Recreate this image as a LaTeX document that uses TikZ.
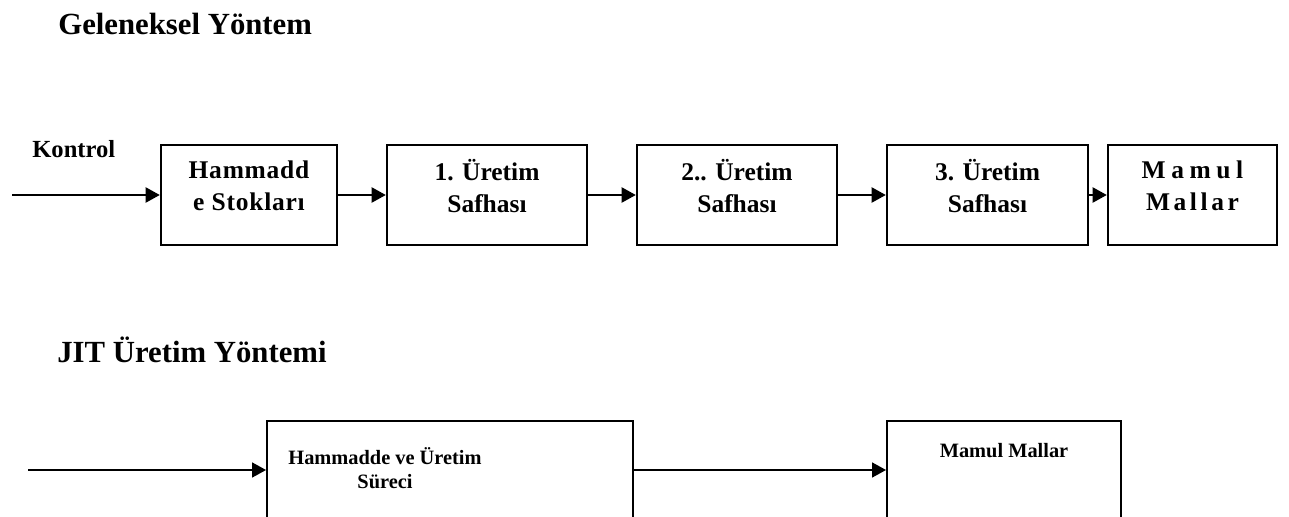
\documentclass[tikz,border=0pt]{standalone}
\usepackage{fontspec}
\setmainfont{Liberation Serif}
\usetikzlibrary{arrows.meta}
\tikzset{
  kutu/.style={draw,line width=1.4pt,inner sep=0pt,minimum height=2cm,text depth=0.36cm,align=center,font=\bfseries\fontsize{14.5}{18.1}\selectfont},
  jkutu/.style={draw,line width=1.1pt,inner sep=0pt,minimum height=1.96cm},
  jyazi/.style={anchor=base,inner sep=0pt,align=center,font=\bfseries\fontsize{11.6}{13.6}\selectfont},
  ok/.style={line width=1.3pt,-{Triangle[length=8pt,width=8.5pt]}},
  baslik/.style={anchor=base west,inner sep=0pt,font=\bfseries\fontsize{17.5}{20}\selectfont}
}
\begin{document}
\begin{tikzpicture}[x=0.02cm,y=-0.02cm]
    \useasboundingbox (0,0) rectangle (1289,517);
    \node[baslik] (gel) at (58,35) {Geleneksel Yöntem};
    \node[anchor=base west,inner sep=0pt,font=\bfseries\fontsize{14}{16}\selectfont] (kontrol) at (32,157) {Kontrol};
    \coordinate (giris) at (12,195);
    \node[kutu,minimum width=3.52cm] (hs) at (249,195) {\addfontfeatures{LetterSpace=3}Hammadd\\\addfontfeatures{LetterSpace=3}e Stokları};
    \node[kutu,minimum width=4cm] (u1) at (487,195) {1. Üretim\\Safhası};
    \node[kutu,minimum width=4cm] (u2) at (737,195) {2.. Üretim\\Safhası};
    \node[kutu,minimum width=4.02cm] (u3) at (987.5,195) {3. Üretim\\Safhası};
    \node[kutu,minimum width=3.38cm] (mm) at (1192.5,195) {\addfontfeatures{LetterSpace=22}Mamul\\\addfontfeatures{LetterSpace=14}Mallar};
    \draw[ok] (giris) -- (hs);
    \draw[ok] (hs) -- (u1);
    \draw[ok] (u1) -- (u2);
    \draw[ok] (u2) -- (u3);
    \draw[ok] (u3) -- (mm);
    % JIT
    \node[baslik] (jit) at (57,362) {JIT Üretim Yöntemi};
    \coordinate (jgiris) at (28,470);
    \node[jkutu,minimum width=7.32cm] (jh) at (450,470) {};
    \node[jkutu,minimum width=4.68cm] (jm) at (1004,470) {};
    \node[jyazi] (jhyazi) at (385,488) {Hammadde ve Üretim\\Süreci};
    \node[jyazi] (jmyazi) at (1004,457) {Mamul Mallar};
    \draw[ok,line width=1.1pt] (jgiris) -- (jh);
    \draw[ok,line width=1.1pt] (jh) -- (jm);
\end{tikzpicture}
\end{document}
